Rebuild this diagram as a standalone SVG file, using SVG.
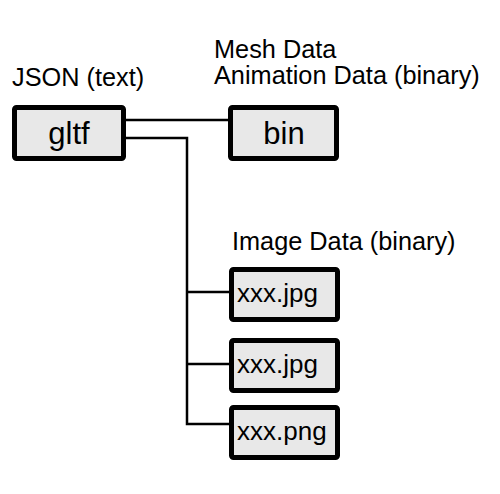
<svg xmlns="http://www.w3.org/2000/svg" width="500" height="494" viewBox="0 0 500 494">
  <style>
    .box { fill: #e8e8e8; stroke: #000; stroke-width: 5; }
    .lbl { font-family: "Liberation Sans", Arial, sans-serif; font-size: 25.3px; fill: #000; }
    .name { font-family: "Liberation Sans", Arial, sans-serif; font-size: 31px; fill: #000; }
    .fname { font-family: "Liberation Sans", Arial, sans-serif; font-size: 26px; fill: #000; }
    .wire { fill: none; stroke: #000; stroke-width: 2.5; }
  </style>
  <rect width="500" height="494" fill="#fff"/>

  <!-- captions -->
  <text class="lbl" x="12" y="86">JSON (text)</text>
  <text class="lbl" x="214" y="58">Mesh Data</text>
  <text class="lbl" x="214" y="84">Animation Data (binary)</text>
  <text class="lbl" x="232" y="250">Image Data (binary)</text>

  <!-- connectors -->
  <g id="connectors">
    <path class="wire" d="M126 120 H229"/>
    <path class="wire" d="M126 138 H187 V424 H229"/>
    <path class="wire" d="M187 292 H229"/>
    <path class="wire" d="M187 364 H229"/>
  </g>

  <g id="gltf">
    <rect class="box" x="14.5" y="107.5" width="109" height="51" rx="2"/>
    <text class="name" x="69" y="144" text-anchor="middle">gltf</text>
  </g>
  <g id="bin">
    <rect class="box" x="230.5" y="107.5" width="106" height="51" rx="2"/>
    <text class="name" x="284" y="144" text-anchor="middle">bin</text>
  </g>
  <g id="image1">
    <rect class="box" x="231.5" y="269.5" width="106" height="50" rx="2"/>
    <text class="fname" x="237" y="302">xxx.jpg</text>
  </g>
  <g id="image2">
    <rect class="box" x="231.5" y="340.5" width="106" height="50" rx="2"/>
    <text class="fname" x="237" y="373">xxx.jpg</text>
  </g>
  <g id="image3">
    <rect class="box" x="231.5" y="407.5" width="106" height="50" rx="2"/>
    <text class="fname" x="237" y="440">xxx.png</text>
  </g>
</svg>
